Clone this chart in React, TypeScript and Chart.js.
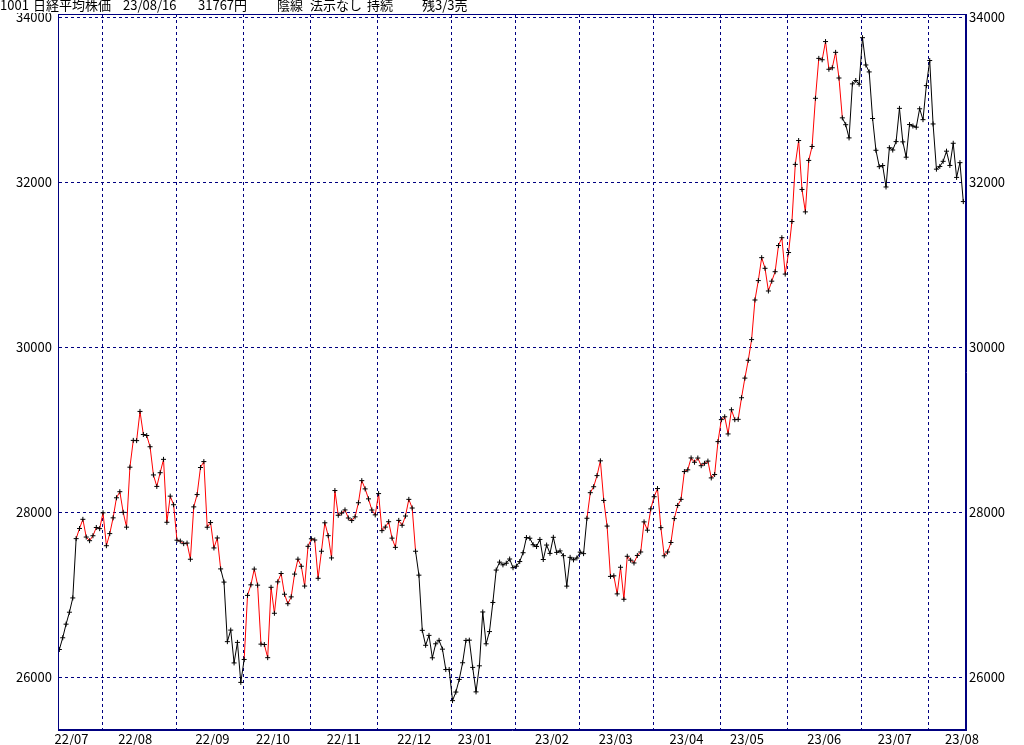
import React, { useEffect, useRef } from 'react';
import { Chart, registerables } from 'chart.js';

Chart.register(...registerables);

// ---- data ----
const monthKeys = ['2022-07', '2022-08', '2022-09', '2022-10', '2022-11', '2022-12', '2023-01', '2023-02', '2023-03', '2023-04', '2023-05', '2023-06', '2023-07', '2023-08'];
const monthLabels = ['22/07', '22/08', '22/09', '22/10', '22/11', '22/12', '23/01', '23/02', '23/03', '23/04', '23/05', '23/06', '23/07', '23/08'];

const jul22Days = [12, 13, 14, 15, 19, 20, 21, 22, 25, 26, 27, 28, 29];
const jul22Close = [26336, 26478, 26643, 26788, 26961, 27680, 27803, 27914, 27699, 27655, 27715, 27815, 27801];
const aug22Days = [1, 2, 3, 4, 5, 8, 9, 10, 12, 15, 16, 17, 18, 19, 22, 23, 24, 25, 26, 29, 30, 31];
const aug22Close = [27993, 27594, 27741, 27932, 28175, 28249, 27999, 27819, 28546, 28871, 28868, 29222, 28942, 28930, 28794, 28452, 28313, 28479, 28641, 27878, 28195, 28091];
const sep22Days = [1, 2, 5, 6, 7, 8, 9, 12, 13, 14, 15, 16, 20, 21, 22, 26, 27, 28, 29, 30];
const sep22Close = [27661, 27650, 27619, 27626, 27430, 28065, 28214, 28542, 28614, 27818, 27875, 27567, 27688, 27313, 27153, 26431, 26571, 26173, 26422, 25937];
const oct22Days = [3, 4, 5, 6, 7, 11, 12, 13, 14, 17, 18, 19, 20, 21, 24, 25, 26, 27, 28, 31];
const oct22Close = [26215, 26992, 27120, 27311, 27116, 26401, 26396, 26237, 27090, 26775, 27156, 27257, 27006, 26891, 26974, 27250, 27431, 27345, 27105, 27587];
const nov22Days = [1, 2, 4, 7, 8, 9, 10, 11, 14, 15, 16, 17, 18, 21, 22, 24, 25, 28, 29, 30];
const nov22Close = [27678, 27663, 27199, 27527, 27872, 27716, 27446, 28263, 27963, 27990, 28028, 27930, 27899, 27944, 28115, 28383, 28283, 28162, 28027, 27968];
const dec22Days = [1, 2, 5, 6, 7, 8, 9, 12, 13, 14, 15, 16, 19, 20, 21, 22, 23, 26, 27, 28, 29, 30];
const dec22Close = [28226, 27777, 27820, 27885, 27686, 27574, 27901, 27842, 27954, 28156, 28051, 27527, 27237, 26568, 26387, 26507, 26235, 26405, 26447, 26340, 26093, 26094];
const jan23Days = [4, 5, 6, 10, 11, 12, 13, 16, 17, 18, 19, 20, 23, 24, 25, 26, 27, 30, 31];
const jan23Close = [25716, 25820, 25973, 26175, 26446, 26449, 26119, 25822, 26138, 26791, 26405, 26553, 26906, 27299, 27395, 27362, 27382, 27433, 27327];
const feb23Days = [1, 2, 3, 6, 7, 8, 9, 10, 13, 14, 15, 16, 17, 20, 21, 22, 24, 27, 28];
const feb23Close = [27346, 27402, 27509, 27693, 27685, 27606, 27584, 27670, 27427, 27602, 27501, 27696, 27513, 27531, 27473, 27104, 27453, 27423, 27445];
const mar23Days = [1, 2, 3, 6, 7, 8, 9, 10, 13, 14, 15, 16, 17, 20, 22, 23, 24, 27, 28, 29, 30, 31];
const mar23Close = [27516, 27498, 27927, 28237, 28309, 28444, 28623, 28143, 27832, 27222, 27229, 27010, 27333, 26945, 27466, 27419, 27385, 27476, 27518, 27883, 27782, 28041];
const apr23Days = [3, 4, 5, 6, 7, 10, 11, 12, 13, 14, 17, 18, 19, 20, 21, 24, 25, 26, 27, 28];
const apr23Close = [28188, 28287, 27813, 27472, 27518, 27633, 27923, 28082, 28156, 28493, 28514, 28658, 28606, 28657, 28564, 28593, 28620, 28416, 28457, 28856];
const may23Days = [1, 2, 8, 9, 10, 11, 12, 15, 16, 17, 18, 19, 22, 23, 24, 25, 26, 29, 30, 31];
const may23Close = [29123, 29157, 28949, 29242, 29122, 29126, 29388, 29626, 29842, 30093, 30573, 30808, 31086, 30957, 30682, 30801, 30916, 31233, 31328, 30887];
const jun23Days = [1, 2, 5, 6, 7, 8, 9, 12, 13, 14, 15, 16, 19, 20, 21, 22, 23, 26, 27, 28, 29, 30];
const jun23Close = [31148, 31524, 32217, 32506, 31913, 31641, 32265, 32434, 33018, 33502, 33485, 33706, 33370, 33388, 33575, 33264, 32781, 32698, 32538, 33193, 33234, 33189];
const jul23Days = [3, 4, 5, 6, 7, 10, 11, 12, 13, 14, 18, 19, 20, 21, 24, 25, 26, 27, 28, 31];
const jul23Close = [33753, 33422, 33338, 32773, 32388, 32189, 32203, 31943, 32419, 32391, 32493, 32896, 32490, 32304, 32700, 32682, 32668, 32891, 32759, 33172];
const aug23Days = [1, 2, 3, 4, 7, 8, 9, 10, 14, 15, 16];
const aug23Close = [33476, 32707, 32159, 32192, 32254, 32377, 32204, 32473, 32059, 32238, 31766];

// periods in the "buy" (red) state: [from, to)
const redPeriods = [
  ['2022-07-20', '2022-09-21'],
  ['2022-10-03', '2022-12-16'],
  ['2023-03-03', '2023-06-23'],
];

const yTickValues = [26000, 28000, 30000, 32000, 34000];
const yMin = 25360;
const yMax = 34040;

const titleParts: [string, number][] = [
  ['1001', 0],
  ['日経平均株価', 33],
  ['23/08/16', 123],
  ['31767円', 198],
  ['陰線', 277],
  ['法示なし', 310],
  ['持続', 367],
  ['残3/3売', 422],
];

// ---- derived ----
const monthDays = [jul22Days, aug22Days, sep22Days, oct22Days, nov22Days, dec22Days, jan23Days, feb23Days, mar23Days, apr23Days, may23Days, jun23Days, jul23Days, aug23Days];
const monthCloses = [jul22Close, aug22Close, sep22Close, oct22Close, nov22Close, dec22Close, jan23Close, feb23Close, mar23Close, apr23Close, may23Close, jun23Close, jul23Close, aug23Close];

const dates: string[] = [];
const values: number[] = [];
monthKeys.forEach((k, m) => {
  monthDays[m].forEach((d, j) => {
    dates.push(`${k}-${String(d).padStart(2, '0')}`);
    values.push(monthCloses[m][j]);
  });
});

const monthStartIdx = monthKeys.map((k) => dates.findIndex((s) => s.startsWith(k)));
const gridValues = monthStartIdx.slice(1).map((i) => i - 0.25);
const labelValues = monthKeys.map((_, m) => {
  let idx = monthStartIdx[m];
  monthDays[m].forEach((d, j) => {
    if (d <= 15) idx = monthStartIdx[m] + j;
  });
  return idx + 0.6;
});

const isRed = (i: number) => redPeriods.some(([a, b]) => dates[i] >= a && dates[i] < b);

const FONT = '"Noto Sans CJK JP", "DejaVu Sans", sans-serif';
const NAVY = '#000080';

export default function App() {
  const ref = useRef<HTMLCanvasElement | null>(null);

  useEffect(() => {
    if (!ref.current) return;
    const lastIdx = values.length - 1;
    const xMin = -0.4;
    const xMax = lastIdx + 0.8;

    const framePlugin = {
      id: 'frame',
      afterDraw(chart: any) {
        const { ctx, chartArea } = chart;
        ctx.save();
        ctx.strokeStyle = NAVY;
        ctx.lineWidth = 1;
        ctx.strokeRect(Math.round(chartArea.left) + 0.5, Math.round(chartArea.top) + 0.5,
          Math.round(chartArea.right - chartArea.left) - 1, Math.round(chartArea.bottom - chartArea.top) - 1);
        ctx.restore();
      },
    };

    const titlePlugin = {
      id: 'titleText',
      afterDraw(chart: any) {
        const { ctx } = chart;
        ctx.save();
        ctx.fillStyle = '#ffffff';
        ctx.fillRect(0, 0, 470, 13);
        ctx.fillStyle = '#000000';
        ctx.font = `13px ${FONT}`;
        ctx.textBaseline = 'top';
        ctx.textAlign = 'left';
        titleParts.forEach(([t, x]) => ctx.fillText(t, x, -1));
        ctx.restore();
      },
    };

    const gridSet = new Set(gridValues);
    const labelMap = new Map<number, string>();
    labelValues.forEach((v, i) => labelMap.set(v, monthLabels[i]));
    const xTicks = [...gridValues, ...labelValues].sort((a, b) => a - b);

    const chart = new Chart(ref.current, {
      type: 'line',
      data: {
        datasets: [
          {
            data: values.map((v, i) => ({ x: i, y: v })),
            borderColor: '#000000',
            borderWidth: 1,
            tension: 0,
            pointStyle: 'cross',
            pointRadius: 2.5,
            pointHoverRadius: 2.5,
            pointBorderColor: '#000000',
            pointBackgroundColor: '#000000',
            pointBorderWidth: 1,
            segment: {
              borderColor: (c: any) => (isRed(c.p0DataIndex) ? '#ff0000' : '#000000'),
            },
          } as any,
        ],
      },
      options: {
        animation: false,
        responsive: false,
        events: [],
        layout: { padding: { top: 14, left: 0, right: 0, bottom: 0 } },
        plugins: { legend: { display: false }, tooltip: { enabled: false } },
        scales: {
          x: {
            type: 'linear',
            position: 'bottom',
            min: xMin,
            max: xMax,
            afterBuildTicks: (s: any) => {
              s.ticks = xTicks.map((v) => ({ value: v }));
            },
            ticks: {
              autoSkip: false,
              maxRotation: 0,
              minRotation: 0,
              padding: 1,
              color: '#000000',
              font: { family: FONT, size: 13 },
              callback: (_v: any, i: number) => labelMap.get(xTicks[i]) ?? '',
            },
            grid: {
              color: (c: any) => (c.tick && gridSet.has(c.tick.value) ? NAVY : 'rgba(0,0,0,0)'),
              lineWidth: 1,
              drawTicks: false,
            },
            border: { display: true, color: NAVY, width: 1, dash: [3, 3] },
            afterFit: (s: any) => {
              s.height = 15;
            },
          } as any,
          y: {
            type: 'linear',
            position: 'left',
            min: yMin,
            max: yMax,
            afterBuildTicks: (s: any) => {
              s.ticks = yTickValues.map((v) => ({ value: v }));
            },
            ticks: {
              padding: 6,
              color: '#000000',
              font: { family: FONT, size: 13 },
              callback: (v: any) => String(v),
            },
            grid: { color: NAVY, lineWidth: 1, drawTicks: false },
            border: { display: true, color: NAVY, width: 1, dash: [3, 3] },
            afterFit: (s: any) => {
              s.width = 58;
            },
          } as any,
          y2: {
            type: 'linear',
            position: 'right',
            min: yMin,
            max: yMax,
            afterBuildTicks: (s: any) => {
              s.ticks = yTickValues.map((v) => ({ value: v }));
            },
            ticks: {
              padding: 3,
              color: '#000000',
              font: { family: FONT, size: 13 },
              callback: (v: any) => String(v),
            },
            grid: { display: false, drawTicks: false },
            border: { display: true, color: NAVY, width: 1 },
            afterFit: (s: any) => {
              s.width = 58;
            },
          } as any,
        },
      },
      plugins: [framePlugin, titlePlugin],
    });

    return () => chart.destroy();
  }, []);

  return (
    <div style={{ position: 'absolute', left: 0, top: 0, width: 1024, height: 745, background: '#ffffff' }}>
      <canvas ref={ref} width={1024} height={745} style={{ display: 'block' }} />
    </div>
  );
}
